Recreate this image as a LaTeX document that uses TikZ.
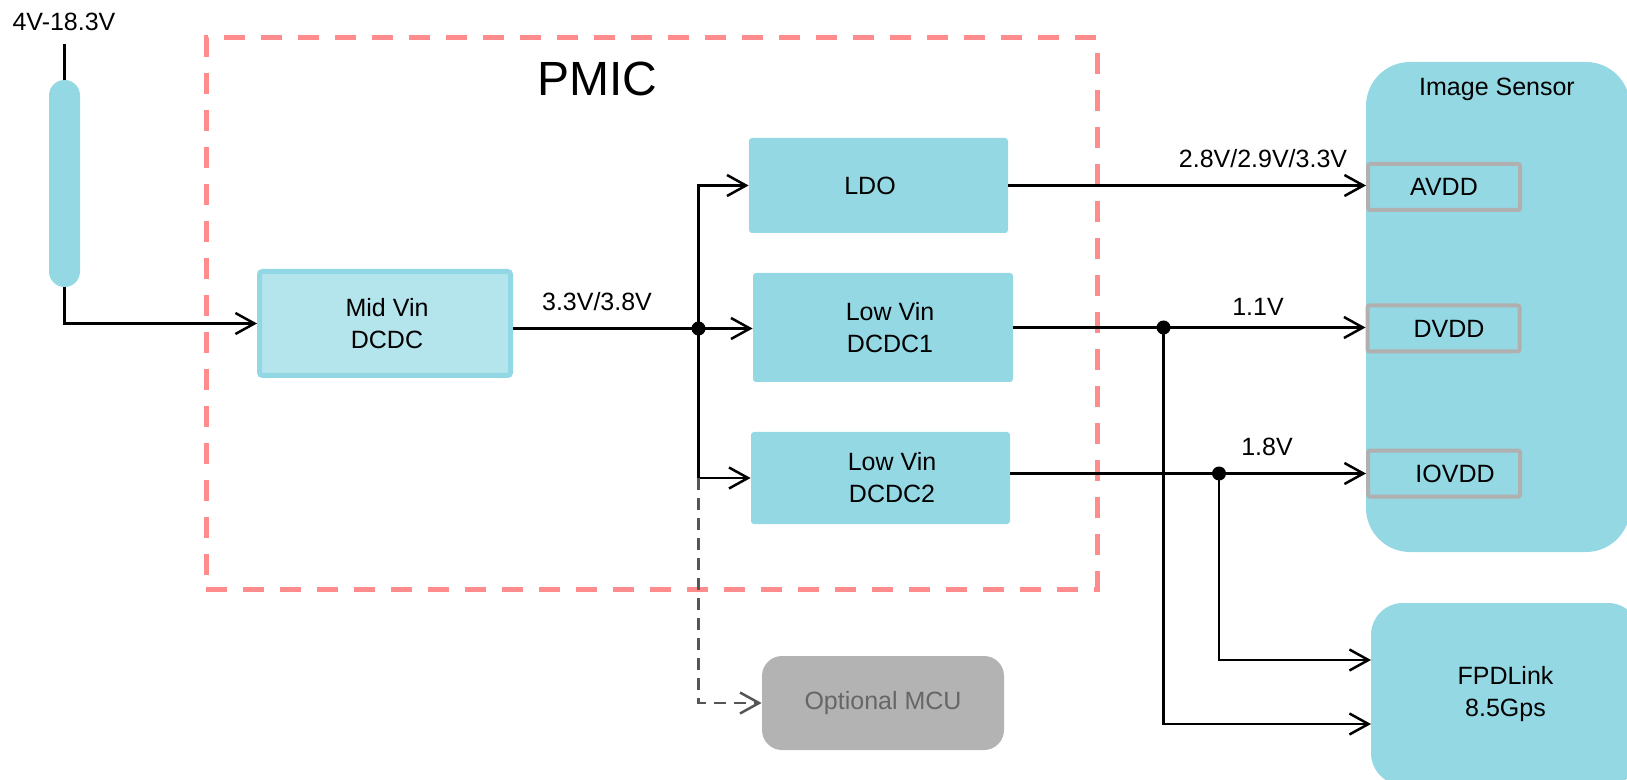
\documentclass[tikz,border=0pt]{standalone}
\usepackage{fontspec}
\setmainfont{Liberation Sans}
\usetikzlibrary{arrows.meta}
\definecolor{cyanbox}{RGB}{148,216,228}
\definecolor{midfill}{RGB}{180,228,236}
\definecolor{midedge}{RGB}{146,216,228}
\definecolor{pmicred}{RGB}{255,140,140}
\definecolor{pingray}{RGB}{176,176,176}
\definecolor{mcufill}{RGB}{179,179,179}
\definecolor{mcutext}{RGB}{102,102,102}
\definecolor{mculine}{RGB}{85,85,85}
\begin{document}
\begin{tikzpicture}[x=0.5pt,y=-0.5pt,
  txt/.style={font=\fontsize{12.5pt}{16pt}\selectfont, inner sep=0pt, align=center},
  blk/.style={txt, fill=cyanbox, rounded corners=1.5pt},
  pinbox/.style={txt, draw=pingray, line width=2pt, rounded corners=1pt, minimum width=76pt, minimum height=23pt},
  wire/.style={line width=1.25pt, black},
  arr/.style={wire, -{Straight Barb[length=9.5pt,width=10.5pt,line width=1.25pt]}},
  mcuarr/.style={line width=1.25pt, mculine, dash pattern=on 6pt off 4pt, -{Straight Barb[length=9.5pt,width=10.5pt,line width=1.25pt]}},
  pmicbox/.style={draw=pmicred, line width=2.5pt, dash pattern=on 10.5pt off 8pt, inner sep=0pt},
  jdot/.style={circle, fill=black, inner sep=0pt, minimum size=7pt}]

\useasboundingbox (0,0) rectangle (1627,780);

% PMIC container
\node[pmicbox, minimum width=445.5pt, minimum height=275.5pt] (pmic) at (651.5,313.5) {};
\node[font=\fontsize{24pt}{28pt}\selectfont, inner sep=0pt] (pmiclbl) at (597,79) {PMIC};

% input
\node[txt] (vinlbl) at (64,22) {4V-18.3V};
\node[fill=cyanbox, rounded corners=7.75pt, minimum width=15.5pt, minimum height=103.5pt, inner sep=0pt] (vin) at (64.5,183.5) {};
\coordinate (vtop) at (64.5,44);

% PMIC blocks
\node[txt, fill=midfill, draw=midedge, line width=2.5pt, rounded corners=1.5pt, minimum width=125.5pt, minimum height=52pt] (mid) at (385,323.5) {\hspace*{2pt}Mid Vin\\\hspace*{2pt}DCDC};
\node[blk, minimum width=129.5pt, minimum height=47.5pt] (ldo) at (878.5,185.5) {LDO\hspace*{8.5pt}};
\node[blk, minimum width=130pt, minimum height=54.5pt] (dc1) at (883,327.5) {\hspace*{7pt}Low Vin\\\hspace*{7pt}DCDC1};
\node[blk, minimum width=129.5pt, minimum height=46pt] (dc2) at (880.5,478) {\hspace*{11.5pt}Low Vin\\\hspace*{11.5pt}DCDC2};

% Optional MCU
\node[txt, fill=mcufill, text=mcutext, rounded corners=10pt, minimum width=121pt, minimum height=47pt] (mcu) at (883,703) {Optional MCU};

% Image sensor
\node[fill=cyanbox, rounded corners=22pt, minimum width=132pt, minimum height=245pt, inner sep=0pt] (sensor) at (1498,307) {};
\node[txt] (senslbl) at (1497,89) {Image Sensor};
\node[pinbox] (avdd) at (1444,187) {AVDD};
\node[pinbox] (dvdd) at (1443.5,328.5) {\hspace*{5.5pt}DVDD};
\node[pinbox] (iovdd) at (1444,473.5) {\hspace*{11pt}IOVDD};

% FPDLink
\node[txt, fill=cyanbox, rounded corners=16pt, minimum width=134.5pt, minimum height=91pt] (fpd) at (1505.5,694) {FPDLink\\8.5Gps};

% junctions
\coordinate (j1) at (698.5,328.5);
\coordinate (j2) at (1163.5,327.5);
\coordinate (j3) at (1219,473.5);
\coordinate (f1) at (1371,660);
\coordinate (f2) at (1371,724);

% connectors
\draw[wire] (vtop) -- (vin.north);
\draw[arr] (vin.south) |- (mid.west);
\draw[wire] (mid.east |- j1) -- (j1);
\draw[arr] (j1) |- (ldo.west);
\draw[arr] (j1) -- (dc1.west |- j1);
\draw[arr] (j1) |- (dc2.west);
\draw[mcuarr] (j1 |- dc2.west) |- (mcu.west);

\draw[arr] (ldo.east) -- (ldo.east -| avdd.west);
\draw[arr] (dc1.east) -- (dc1.east -| dvdd.west);
\draw[arr] (dc2.east |- iovdd.west) -- (iovdd.west);
\draw[arr] (j3) |- (f1);
\draw[arr] (j2) |- (f2);

\node[jdot] (d1) at (j1) {};
\node[jdot] (d2) at (j2) {};
\node[jdot] (d3) at (j3) {};

% labels
\node[txt] (l1) at (597,302) {3.3V/3.8V};
\node[txt] (l2) at (1263,159) {2.8V/2.9V/3.3V};
\node[txt] (l3) at (1258,307) {1.1V};
\node[txt] (l4) at (1267,447) {1.8V};
\end{tikzpicture}
\end{document}
